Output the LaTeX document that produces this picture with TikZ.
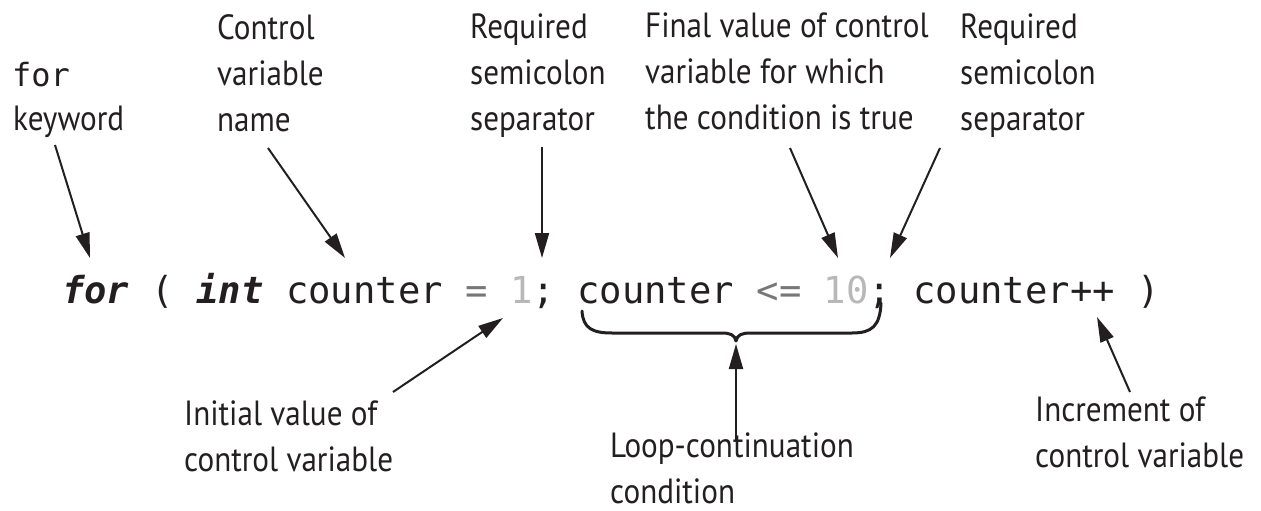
\documentclass[tikz,border=0pt]{standalone}
\usepackage{fontspec}
\setmainfont{PT Sans}[FakeStretch=0.89]
\setmonofont{DejaVu Sans Mono}
\usetikzlibrary{arrows.meta}
\definecolor{ink}{HTML}{231F20}
\definecolor{opgray}{HTML}{777777}
\definecolor{numgray}{HTML}{B8B8B8}
\begin{document}
\begin{tikzpicture}[x=1pt,y=-1pt,
  lbl/.style={anchor=north west, align=left, inner sep=0pt, text=ink,
              font=\fontsize{35}{46}\selectfont},
  monolbl/.style={anchor=north west, inner sep=0pt, text=ink,
              font=\ttfamily\fontsize{32}{46}\selectfont},
  codetok/.style={anchor=base west, inner sep=0pt, text=ink,
              font=\ttfamily\fontsize{37.2}{44}\selectfont},
  kwtok/.style={codetok, font=\ttfamily\bfseries\itshape\fontsize{37.2}{44}\selectfont},
  ptr/.style={draw=ink, line width=2pt, -{Triangle[length=25pt,width=14pt]}},
  bracepath/.style={draw=ink, line width=3pt, line cap=round, line join=round}]
\useasboundingbox (0,0) rectangle (1261,511);

% ---- code line ----
\def\cw{22.4}
\node[kwtok]  (cfor) at (62+0*\cw,303) {for};
\node[codetok] (cpo) at (62+4*\cw,303) {(};
\node[kwtok]  (cint) at (62+6*\cw,303) {int};
\node[codetok] (cvar1) at (62+10*\cw,303) {counter};
\node[codetok, text=opgray] (ceq) at (62+18*\cw,303) {=};
\node[codetok, text=numgray] (cone) at (62+20*\cw,303) {1};
\node[codetok] (csemi1) at (62+21*\cw,303) {;};
\node[codetok] (cvar2) at (62+23*\cw,303) {counter};
\node[codetok, text=opgray] (cle) at (62+31*\cw,303) {<=};
\node[codetok, text=numgray] (cten) at (62+34*\cw,303) {10};
\node[codetok] (csemi2) at (62+36*\cw,303) {;};
\node[codetok] (cinc) at (62+38*\cw,303) {counter++};
\node[codetok] (cpc) at (62+48*\cw,303) {)};

% ---- labels ----
\node[monolbl] (lfor) at (12,62) {for};
\node[lbl] (lkw) at (13,106) {keyword};
\node[lbl] (lctl) at (217,14) {Control\\variable\\name};
\node[lbl] (lreq1) at (470,14) {Required\\semicolon\\separator};
\node[lbl] (lfin) at (645,13) {Final value of control\\variable for which\\the condition is true};
\node[lbl] (lreq2) at (960,14) {Required\\semicolon\\separator};
\node[lbl] (linit) at (184,401) {Initial value of\\control variable};
\node[lbl] (lloop) at (610,433) {Loop-continuation\\condition};
\node[lbl] (linc) at (1035,397) {Increment of\\control variable};

% ---- arrow end points ----
\coordinate (aforS) at (55,145);   \coordinate (aforT) at (90,258);
\coordinate (actlS) at (268,148);  \coordinate (actlT) at (345,258);
\coordinate (areq1S) at (542,147); \coordinate (areq1T) at (542,258);
\coordinate (afinS) at (790,148);  \coordinate (afinT) at (838,258);
\coordinate (areq2S) at (940,148); \coordinate (areq2T) at (890,258);
\coordinate (ainitS) at (393,392); \coordinate (ainitT) at (503,318);
\coordinate (aloopS) at (736,440); \coordinate (aloopT) at (736,344);
\coordinate (aincS) at (1130,392); \coordinate (aincT) at (1097,317);

\draw[ptr] (aforS) -- (aforT);
\draw[ptr] (actlS) -- (actlT);
\draw[ptr] (areq1S) -- (areq1T);
\draw[ptr] (afinS) -- (afinT);
\draw[ptr] (areq2S) -- (areq2T);
\draw[ptr] (ainitS) -- (ainitT);
\draw[ptr] (aloopS) -- (aloopT);
\draw[ptr] (aincS) -- (aincT);

% ---- brace under the condition ----
\coordinate (brL) at (582,311);
\coordinate (brM) at (736,341);
\coordinate (brR) at (881,303);
\draw[bracepath] (brL) .. controls (583,328) and (592,333) .. (612,333)
  -- (722,333) .. controls (730,333) and (735,335) .. (brM)
  .. controls (737,335) and (742,333) .. (750,333)
  -- (852,333) .. controls (872,333) and (880,326) .. (brR);
\end{tikzpicture}
\end{document}
